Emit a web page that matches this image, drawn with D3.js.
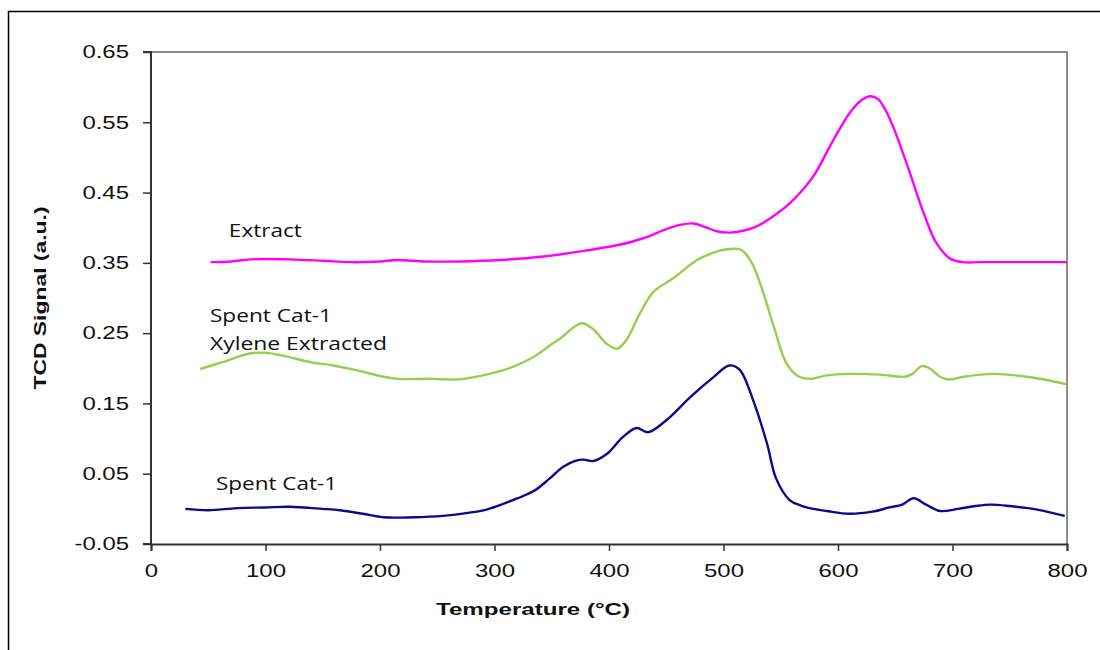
<!DOCTYPE html>
<html>
<head>
<meta charset="utf-8">
<script src="https://cdn.jsdelivr.net/npm/d3@7/dist/d3.min.js"></script>
<style>
  body { margin: 0; background: #fff; }
  svg text { fill: #111; }
</style>
</head>
<body>
<div id="chart"></div>
<script>
// --- data ---
const catTemp = [30, 50, 75, 100, 121, 150, 165, 185, 203, 229, 255, 275, 293, 320, 335, 348, 360, 370, 378, 386, 398, 412, 424, 434, 450, 471, 491, 505, 514, 526, 538, 546, 558, 567, 575, 590, 610, 630, 645, 656, 666, 677, 689, 705, 720, 733, 750, 774, 798];
const catSignal = [0.000, -0.002, 0.001, 0.002, 0.003, 0.000, -0.002, -0.007, -0.012, -0.012, -0.010, -0.006, -0.001, 0.015, 0.026, 0.043, 0.060, 0.068, 0.070, 0.068, 0.078, 0.102, 0.115, 0.109, 0.126, 0.159, 0.187, 0.204, 0.198, 0.154, 0.093, 0.043, 0.012, 0.005, 0.001, -0.003, -0.007, -0.004, 0.002, 0.006, 0.015, 0.006, -0.003, 0.000, 0.004, 0.006, 0.004, -0.001, -0.010];

const xylTemp = [43, 63, 86, 101, 115, 139, 159, 180, 200, 215, 247, 267, 290, 316, 334, 348, 357, 376, 386, 398, 407, 415, 427, 439, 456, 477, 494, 510, 516, 524, 532, 544, 555, 565, 576, 590, 610, 637, 658, 665, 673, 680, 689, 697, 710, 735, 760, 780, 800];
const xylSignal = [0.199, 0.209, 0.221, 0.222, 0.218, 0.209, 0.204, 0.197, 0.189, 0.185, 0.185, 0.184, 0.190, 0.202, 0.216, 0.232, 0.242, 0.264, 0.256, 0.235, 0.228, 0.240, 0.278, 0.309, 0.328, 0.354, 0.366, 0.370, 0.368, 0.352, 0.321, 0.259, 0.207, 0.189, 0.185, 0.190, 0.192, 0.191, 0.188, 0.192, 0.203, 0.200, 0.188, 0.184, 0.188, 0.192, 0.189, 0.184, 0.177];

const extTemp = [52, 70, 87, 121, 150, 174, 200, 215, 240, 270, 305, 343, 378, 407, 430, 450, 462, 474, 484, 494, 506, 518, 529, 545, 558, 578, 596, 611, 621, 628, 635, 641, 646, 651, 663, 675, 686, 698, 709, 724, 760, 800];
const extSignal = [0.351, 0.352, 0.355, 0.355, 0.353, 0.351, 0.352, 0.354, 0.352, 0.352, 0.354, 0.359, 0.367, 0.375, 0.385, 0.398, 0.404, 0.406, 0.401, 0.395, 0.393, 0.396, 0.402, 0.418, 0.435, 0.472, 0.525, 0.565, 0.582, 0.587, 0.583, 0.569, 0.552, 0.532, 0.477, 0.420, 0.378, 0.356, 0.351, 0.351, 0.351, 0.351];

const xTicks = [0, 100, 200, 300, 400, 500, 600, 700, 800];
const yTicks = [-0.05, 0.05, 0.15, 0.25, 0.35, 0.45, 0.55, 0.65];

const seriesNames = ["Spent Cat-1", "Spent Cat-1 Xylene Extracted", "Extract"];
const seriesColors = ["#0a0a8a", "#92d050", "#ff00ff"];

// --- layout ---
const W = 1100, H = 650;
const margin = {top: 52, right: 33, bottom: 106, left: 151};
const width = W - margin.left - margin.right;
const height = H - margin.top - margin.bottom;
const STRETCH = 1.33; // the source text is drawn wide

const svg = d3.select("#chart").append("svg")
    .attr("width", W)
    .attr("height", H);

// outer frame (only top/left visible in the picture)
svg.append("rect")
    .attr("x", 8.5).attr("y", 11.5)
    .attr("width", 1200).attr("height", 800)
    .attr("fill", "none")
    .attr("stroke", "#000")
    .attr("stroke-width", 1.5);

const g = svg.append("g")
    .attr("transform", "translate(" + margin.left + "," + margin.top + ")");

const x = d3.scaleLinear().domain([0, 800]).range([0, width]);
const y = d3.scaleLinear().domain([-0.05, 0.65]).range([height, 0]);

function widen(sel, k) {
    sel.each(function() {
        const w = this.getComputedTextLength();
        d3.select(this).attr("textLength", w * k).attr("lengthAdjust", "spacingAndGlyphs");
    });
}

// plot frame: gray top + right
g.append("path")
    .attr("d", "M0,0H" + width + "V" + height)
    .attr("fill", "none")
    .attr("stroke", "#8c8c8c")
    .attr("stroke-width", 2);

// axes
const yFmt = d => d3.format(".2f")(d).replace("\u2212", "-");
const xAxis = d3.axisBottom(x).tickValues(xTicks).tickSize(7).tickPadding(13).tickFormat(d3.format("d"));
const yAxis = d3.axisLeft(y).tickValues(yTicks).tickSize(8).tickPadding(14).tickFormat(yFmt);

const gx = g.append("g")
    .attr("class", "x-axis axis")
    .attr("transform", "translate(0," + height + ")")
    .call(xAxis);
const gy = g.append("g")
    .attr("class", "y-axis axis")
    .call(yAxis);

[gx, gy].forEach(a => {
    a.select(".domain").attr("stroke", "#333").attr("stroke-width", 2);
    a.selectAll(".tick line").attr("stroke", "#333").attr("stroke-width", 1.5);
    a.selectAll(".tick text")
        .attr("font-family", "Liberation Sans, Arial, sans-serif")
        .attr("font-size", 18)
        .attr("fill", "#111");
});
gy.select(".domain").attr("d", "M-8," + height + "H0V0H-8");
gx.selectAll(".tick text").attr("dy", "0.71em");
widen(gx.selectAll(".tick text"), STRETCH);
widen(gy.selectAll(".tick text"), STRETCH);

// lines
const line = d3.line()
    .x(d => x(d[0]))
    .y(d => y(d[1]))
    .curve(d3.curveCatmullRom.alpha(0.5));

const seriesData = [
    d3.zip(catTemp, catSignal),
    d3.zip(xylTemp, xylSignal),
    d3.zip(extTemp, extSignal)
];

g.selectAll(".series")
    .data(seriesData)
    .enter().append("path")
    .attr("class", "series")
    .attr("d", line)
    .attr("fill", "none")
    .attr("stroke", (d, i) => seriesColors[i])
    .attr("stroke-width", 2.4)
    .attr("stroke-linejoin", "round");

// series labels
const labelFont = "Open Sans, Noto Sans, sans-serif";
const labels = [
    {text: "Extract", t: 68, v: 0.3865, w: 73},
    {text: "Spent Cat-1", t: 51.5, v: 0.2658, w: 122},
    {text: "Xylene Extracted", t: 51.5, v: 0.2265, w: 177},
    {text: seriesNames[0], t: 56.8, v: 0.0275, w: 121}
];
g.selectAll(".label")
    .data(labels)
    .enter().append("text")
    .attr("class", "label")
    .attr("x", d => x(d.t))
    .attr("y", d => y(d.v))
    .attr("font-family", labelFont)
    .attr("font-size", 18)
    .attr("textLength", d => d.w)
    .attr("lengthAdjust", "spacingAndGlyphs")
    .attr("fill", "#222")
    .text(d => d.text);

// axis titles
svg.append("text")
    .attr("x", margin.left + width / 2 - 76)
    .attr("y", 615)
    .attr("text-anchor", "middle")
    .attr("font-family", "Liberation Sans, Arial, sans-serif")
    .attr("font-weight", "bold")
    .attr("font-size", 17)
    .attr("textLength", 194)
    .attr("lengthAdjust", "spacingAndGlyphs")
    .text("Temperature (\u00B0C)");

svg.append("text")
    .attr("transform", "translate(46,298) rotate(-90)")
    .attr("text-anchor", "middle")
    .attr("font-family", "Liberation Sans, Arial, sans-serif")
    .attr("font-weight", "bold")
    .attr("font-size", 17)
    .attr("textLength", 183)
    .attr("lengthAdjust", "spacingAndGlyphs")
    .text("TCD Signal (a.u.)");
</script>
</body>
</html>
